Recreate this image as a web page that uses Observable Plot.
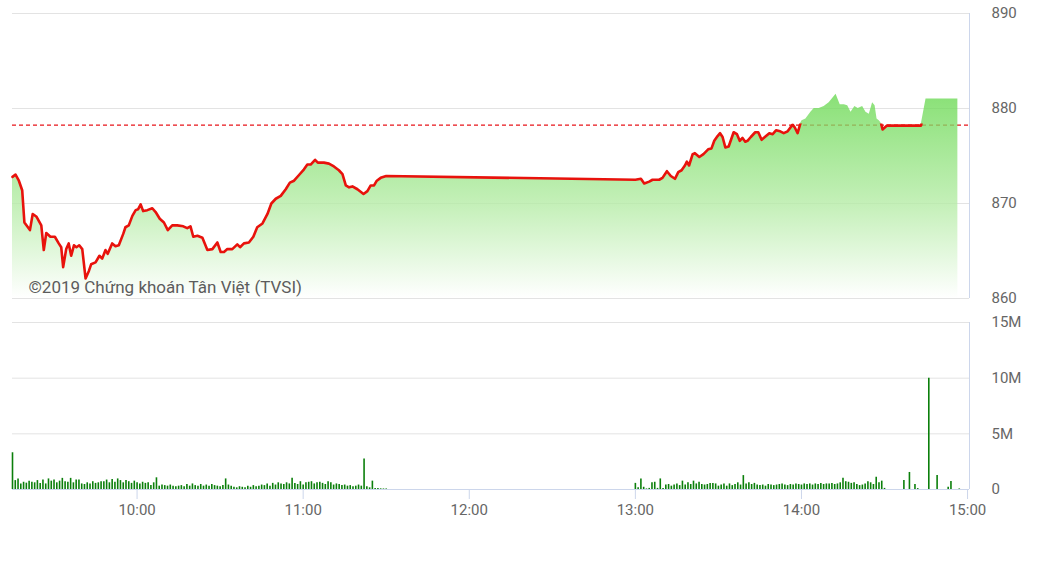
<!DOCTYPE html>
<html>
<head>
<meta charset="utf-8">
<script src="https://cdn.jsdelivr.net/npm/d3@7"></script>
<script src="https://cdn.jsdelivr.net/npm/@observablehq/plot@0.6"></script>
<style>
  html, body { margin: 0; padding: 0; background: #fff; }
  #chart svg { display: block; }
  #chart svg [aria-label^="x-axis"] line,
  #chart svg [aria-label^="x-axis"] path { stroke: #ccd6eb; stroke-opacity: 1; }
</style>
</head>
<body>
<div id="chart"></div>
<script>
// ---- Data (time = minutes after 09:00) ----
const refPrice = 878.25;
const priceTicks = [860, 870, 880, 890];
const volTicks = [0, 5, 10, 15]; // millions
const timeTicks = [60, 120, 180, 240, 300, 360];
const timeTickLabels = ["10:00", "11:00", "12:00", "13:00", "14:00", "15:00"];

const priceTimes = [
  15, 16.1, 17.3, 18.5, 19.3, 21.3, 22.3, 23.7, 25.4, 26.3, 27.2, 28.7, 30.3, 31.7, 32.6, 33.3,
  34.4, 35.3, 36.2, 37.2, 38.1, 39.1, 40.2, 41.4, 42.6, 43.4, 45, 46.4, 47.4, 48.6, 49.4, 51,
  52.2, 53.4, 55, 55.8, 57, 58.3, 59.5, 60.4, 61.3, 62.2, 63.7, 65.5, 66.7, 68.2, 69.7, 71.1,
  72.7, 74.5, 76.7, 78.1, 79.3, 80.3, 81.8, 83.6, 85.4, 87.2, 89, 90.2, 91.4, 92.6, 94.4, 96.2,
  97.2, 98.6, 100.4, 102, 103.4, 105.3, 107.1, 108.5, 110.1, 111.9, 113.7, 115.2, 116.7, 118.5,
  120.3, 121.5, 122.7, 124.3, 125.3, 127.5, 129.3, 131.1, 132.9, 134.2, 135.4, 136.6, 137.8,
  139.6, 141.8, 143.2, 144.4, 145.6, 146.6, 148, 150,
  240, 242, 243.2, 245, 246.2, 248.6, 249.8, 251.4, 252.8, 254.3, 255.5, 256.7, 257.9, 258.6,
  259.4, 260.7, 261.5, 263.1, 264.6, 266.3, 267.5, 268.5, 269.7, 270.6, 271.5, 272.5, 273.7,
  275.5, 276.7, 277.7, 278.7, 279.7, 280.5, 281.7, 283.3, 284.4, 285.6, 287.2, 288.4, 289.6,
  290.8, 292.3, 293.6, 295, 296.8, 297.6, 298.6, 299.6, 300.2, 301.6, 303.4, 304.6, 306.4,
  308.2, 310, 312.5, 314, 315.5, 316.7, 317.9, 319.3, 320.5, 322.1, 323.3, 324.5, 325.7, 326.6,
  327.3, 328.1, 328.7, 329.3, 330.9, 343.2, 345, 356.5
];
const priceValues = [
  872.8, 873.05, 872.4, 871.4, 868.0, 867.2, 868.9, 868.6, 867.7, 865.1, 866.9, 866.5, 866.5, 865.8, 865.4, 863.3,
  865.2, 865.8, 864.5, 865.6, 865.4, 865.6, 865.2, 862.1, 862.9, 863.6, 863.8, 864.5, 864.2, 865.1, 864.7, 865.8,
  865.5, 865.6, 866.8, 867.5, 867.7, 868.7, 869.3, 869.4, 869.9, 869.2, 869.3, 869.5, 869.1, 868.4, 868.0, 867.2,
  867.7, 867.7, 867.6, 867.4, 867.6, 866.5, 866.6, 866.4, 865.1, 865.2, 865.9, 864.9, 864.9, 865.2, 865.2, 865.7,
  865.4, 865.8, 865.9, 866.5, 867.5, 867.9, 868.9, 870.0, 870.5, 870.8, 871.5, 872.2, 872.4, 873.0,
  873.6, 874.1, 874.1, 874.6, 874.3, 874.3, 874.2, 873.9, 873.5, 873.1, 871.9, 871.7, 871.8,
  871.5, 871.0, 871.3, 871.9, 871.9, 872.4, 872.7, 872.9,
  872.5, 872.6, 872.1, 872.3, 872.5, 872.5, 872.7, 873.4, 872.9, 872.6, 873.3, 873.5, 874.0, 874.4,
  874.0, 875.2, 875.3, 874.9, 875.2, 875.7, 875.8, 876.6, 877.1, 877.4, 877.0, 875.9, 876.0,
  877.5, 877.3, 876.6, 876.9, 876.5, 876.6, 877.0, 877.5, 877.5, 876.7, 877.1, 877.4, 877.3,
  877.7, 877.6, 877.4, 877.6, 878.3, 878.0, 877.4, 878.4, 878.7, 878.9, 879.6, 880.0, 880.0,
  880.2, 880.6, 881.5, 880.4, 880.4, 880.3, 879.6, 880.2, 880.0, 880.2, 879.6, 879.4, 880.6, 880.3,
  878.9, 878.7, 878.5, 877.8, 878.2, 878.2, 881.0, 881.0
];

// volume (millions) per minute: 09:15-11:30 and 13:00-14:30, plus late trades
const morningStart = 15;
const morningVol = [
  3.3, 0.8, 0.95, 0.5, 0.65, 0.57, 0.74, 0.65, 0.6, 0.8,
  0.55, 0.86, 0.5, 0.95, 0.75, 0.85, 0.6, 0.75, 1.0, 0.7,
  0.65, 1.0, 0.6, 0.85, 0.85, 0.5, 0.45, 0.6, 0.5, 0.7,
  0.55, 0.6, 0.7, 0.7, 0.85, 0.6, 0.9, 0.65, 0.95, 0.8,
  0.6, 0.8, 0.7, 0.55, 0.75, 0.6, 0.5, 0.65, 0.55, 0.6,
  0.35, 0.6, 1.05, 0.3, 0.4, 0.35, 0.3, 0.4, 0.3, 0.25,
  0.3, 0.35, 0.25, 0.45, 0.3, 0.5, 0.35, 0.3, 0.45, 0.3,
  0.4, 0.3, 0.45, 0.35, 0.3, 0.25, 0.35, 0.95, 0.4, 0.3,
  0.2, 0.15, 0.25, 0.2, 0.15, 0.3, 0.2, 0.35, 0.25, 0.3,
  0.4, 0.35, 0.5, 0.3, 0.55, 0.4, 0.6, 0.5, 0.45, 0.6,
  0.5, 1.0, 0.55, 0.45, 0.7, 0.4, 0.6, 0.65, 0.7, 0.5,
  0.6, 0.65, 0.55, 0.45, 0.7, 0.6, 0.4, 0.5, 0.45, 0.35,
  0.4, 0.3, 0.35, 0.25, 0.3, 0.4, 0.3, 2.75, 0.25, 0.15,
  0.75, 0.1, 0.08, 0.06, 0.05, 0.05
];
const afternoonStart = 240;
const afternoonVol = [
  0.55, 0.15, 0.95, 0.2, 0.05, 0.1, 0.6, 0.65, 0.1, 0.95,
  0.1, 0.4, 0.45, 0.3, 0.4, 0.5, 0.35, 0.75, 0.4, 0.6,
  0.45, 0.75, 0.5, 0.65, 0.45, 0.4, 0.45, 0.55, 0.55, 0.5,
  0.3, 0.4, 0.5, 0.3, 0.5, 0.35, 0.45, 0.6, 0.4, 1.25,
  0.5, 0.6, 0.45, 0.55, 0.4, 0.35, 0.4, 0.3, 0.45, 0.4,
  0.35, 0.4, 0.45, 0.5, 0.4, 0.35, 0.45, 0.4, 0.5, 0.45,
  0.4, 0.5, 0.45, 0.5, 0.4, 0.5, 0.45, 0.55, 0.45, 0.5,
  0.5, 0.55, 0.45, 0.5, 0.6, 1.0, 0.7, 0.65, 0.55, 0.6,
  0.45, 0.35, 0.4, 0.5, 0.7, 0.6, 0.45, 1.1, 0.6, 0.75,
  0.1
];
const lateTimes = [337, 339, 341, 342, 346, 349, 353, 354, 357];
const lateVol = [0.8, 1.53, 0.45, 0.08, 10.0, 1.26, 0.2, 0.72, 0.05];

const copyright = "©2019 Chứng khoán Tân Việt (TVSI)";

// ---- Tables ----
const price = priceTimes.map((t, i) => ({t, v: priceValues[i]}));
const volume = [
  ...morningVol.map((v, i) => ({t: morningStart + i, v})),
  ...afternoonVol.map((v, i) => ({t: afternoonStart + i, v})),
  ...lateTimes.map((t, i) => ({t, v: lateVol[i]}))
];

const xDomain = [15, 360.7];
const W = 1038;
const common = {
  width: W,
  marginLeft: 12,
  marginRight: 69,
  style: {fontFamily: "Roboto, sans-serif", fontSize: "15px", color: "#666", background: "transparent", overflow: "visible"}
};
const gridColor = "#e3e3e3";
const axisColor = "#ccd6eb";

// ---- Price panel ----
const priceChart = Plot.plot({
  ...common,
  height: 310,
  marginTop: 13,
  marginBottom: 12,
  x: {domain: xDomain, axis: null},
  y: {domain: [860, 890], axis: "right", ticks: priceTicks, tickSize: 0, tickPadding: 22, tickFormat: d => String(d), label: null},
  marks: [
    Plot.ruleY(priceTicks, {stroke: gridColor, strokeWidth: 1}),
    Plot.ruleY([refPrice], {stroke: "#e8141a", strokeWidth: 1.4, strokeDasharray: "4,3"}),
    Plot.areaY(price, {x: "t", y1: 860, y2: "v", fill: "url(#priceGrad)", fillOpacity: 0.78, curve: "linear"}),
    Plot.line(price, {x: "t", y: "v", stroke: "#e8120c", strokeWidth: 2.6, curve: "linear", strokeLinejoin: "round"}),
    Plot.ruleX([xDomain[1]], {stroke: axisColor, strokeWidth: 1}),
    Plot.text([copyright], {frameAnchor: "bottom-left", dx: 16, dy: -6, lineAnchor: "bottom", textAnchor: "start", fontSize: 17, fill: "#5c5c5c"})
  ]
});

// ---- Volume panel ----
const volChart = Plot.plot({
  ...common,
  height: 273,
  marginTop: 12,
  marginBottom: 94,
  x: {domain: xDomain, ticks: timeTicks, tickSize: 10, tickPadding: 5, tickFormat: d => timeTickLabels[timeTicks.indexOf(d)], label: null},
  y: {domain: [0, 15], axis: "right", ticks: volTicks, tickSize: 0, tickPadding: 22, tickFormat: d => d === 0 ? "0" : d + "M", label: null},
  marks: [
    Plot.ruleY(volTicks.filter(d => d > 0), {stroke: gridColor, strokeWidth: 1}),
    Plot.ruleX(volume, {x: "t", y1: 0, y2: "v", stroke: "#0b7f0b", strokeWidth: 1.6}),
    Plot.ruleY([0], {stroke: axisColor, strokeWidth: 1}),
    Plot.ruleX([xDomain[1]], {stroke: axisColor, strokeWidth: 1})
  ]
});

const host = document.getElementById("chart");
host.appendChild(priceChart);
host.appendChild(volChart);

// gradient + clip for the price line (red only below reference line)
const refPx = priceChart.scale("y").apply(refPrice);
const defs = d3.select(priceChart).insert("defs", ":first-child");
const grad = defs.append("linearGradient").attr("id", "priceGrad")
  .attr("x1", 0).attr("y1", 0).attr("x2", 0).attr("y2", 1);
grad.append("stop").attr("offset", "0").attr("stop-color", "#68d850");
grad.append("stop").attr("offset", "0.55").attr("stop-color", "#b5eca6");
grad.append("stop").attr("offset", "1").attr("stop-color", "#ffffff");
defs.append("clipPath").attr("id", "belowRef")
  .append("rect").attr("x", 0).attr("y", refPx - 1.6).attr("width", W).attr("height", 400);
d3.select(priceChart).selectAll('g[aria-label="line"]').attr("clip-path", "url(#belowRef)");
</script>
</body>
</html>
